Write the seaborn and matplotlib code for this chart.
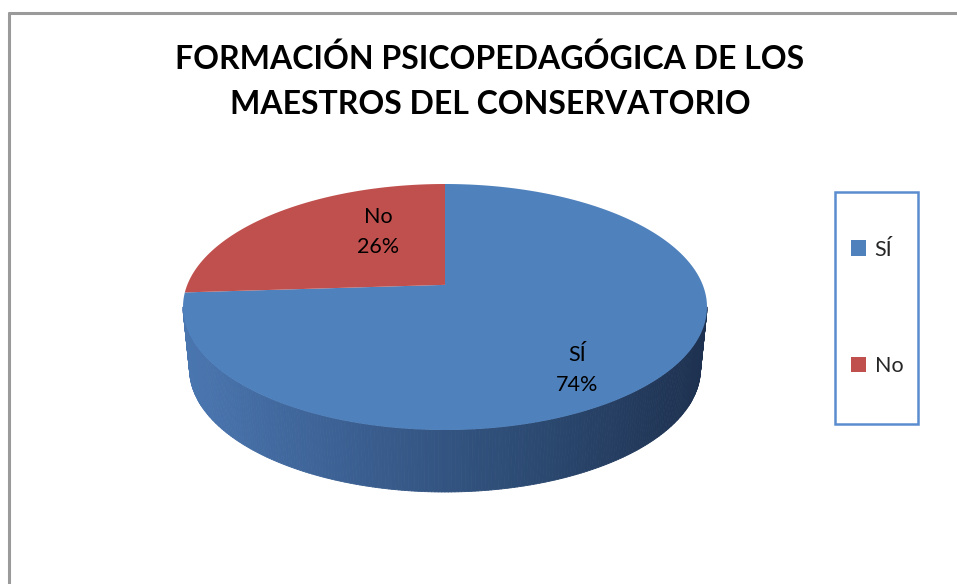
import numpy as np
import matplotlib
matplotlib.use("Agg")
import matplotlib.pyplot as plt
import seaborn as sns
from matplotlib.patches import Polygon, Patch, Rectangle
from matplotlib.collections import PolyCollection
from matplotlib.colors import LinearSegmentedColormap
from matplotlib.lines import Line2D

# datos del gráfico
categorias = ["SÍ", "No"]
porcentajes = [74, 26]
colores = ["#4f81bd", "#c0504d"]
titulo = "FORMACIÓN PSICOPEDAGÓGICA DE LOS\nMAESTROS DEL CONSERVATORIO"

sns.set_theme(style="white")
plt.rcParams["font.family"] = ["Lato", "DejaVu Sans"]

W, H = 957, 584
fig = plt.figure(figsize=(W / 100, H / 100), dpi=100)

# marco exterior (recortado a la derecha y abajo)
fig.add_artist(Line2D([9 / W, 1], [1 - 13 / H, 1 - 13 / H], color="#9a9a9a", lw=2.2))
fig.add_artist(Line2D([9 / W, 9 / W], [0, 1 - 13 / H], color="#9a9a9a", lw=2.2))

fig.text(490 / W, 1 - 81 / H, titulo, ha="center", va="center", fontsize=23,
         fontweight="bold", linespacing=1.65, color="black")

# elipse de la cara superior (en píxeles)
cx, cy, a, b = 445, 307, 262, 123
ax = fig.add_axes([(cx - a) / W, (H - cy - b) / H, 2 * a / W, 2 * b / H])

wedges, textos, autotextos = ax.pie(
    porcentajes, colors=colores, startangle=90, counterclock=False,
    autopct="%1.0f%%", pctdistance=0.7, labels=categorias, labeldistance=None,
)
ax.set_aspect("auto")
ax.set_xlim(-1, 1)
ax.set_ylim(-1, 1)
ax.axis("off")

# perspectiva: mapa proyectivo que conserva el círculo unidad
k = 0.18


def persp(u, v):
    d = 1 + k * v
    return u * np.sqrt(1 - k ** 2) / d, (v + k) / d


for w in wedges:
    th = np.radians(np.linspace(w.theta1, w.theta2, 200))
    u = np.concatenate([[w.center[0]], w.r * np.cos(th)])
    v = np.concatenate([[w.center[1]], w.r * np.sin(th)])
    x, y = persp(u, v)
    ax.add_patch(Polygon(np.column_stack([x, y]), closed=True,
                         facecolor=w.get_facecolor(), edgecolor="none",
                         zorder=3, clip_on=False))
    w.set_visible(False)

# pared lateral con degradado
prof = 62 / b
cmap = LinearSegmentedColormap.from_list(
    "pared", ["#4a76b0", "#3a5e90", "#2c4a72", "#1e3150"])
t = np.linspace(np.pi, 2 * np.pi, 241)
top_x, top_y = np.cos(t), np.sin(t)
bot_x, bot_y = np.cos(t) * 0.975, np.sin(t) - prof
quads = []
for i in range(len(t) - 1):
    quads.append([(top_x[i], top_y[i]), (top_x[i + 1], top_y[i + 1]),
                  (bot_x[i + 1], bot_y[i + 1]), (bot_x[i], bot_y[i])])
cols = cmap((top_x[:-1] + 1) / 2)
ax.add_collection(PolyCollection(quads, facecolors=cols, edgecolors=cols,
                                 linewidths=0.6, zorder=2, clip_on=False))

# etiquetas de datos
pos_etiquetas = [(0.504, -0.51), (-0.256, 0.61)]
for txt, cat, p in zip(autotextos, categorias, pos_etiquetas):
    txt.set_text(f"{cat}\n{txt.get_text()}")
    txt.set_position(p)
    txt.set_fontsize(15.5)
    txt.set_color("black")
    txt.set_linespacing(1.6)
    txt.set_zorder(5)

# leyenda
fig.add_artist(Rectangle((835 / W, 1 - 424 / H), 83 / W, 232 / H,
                         transform=fig.transFigure, fill=False,
                         edgecolor="#5b8ccf", lw=1.8))
handles = [Patch(facecolor=c, edgecolor="none") for c in colores]
fig.legend(handles, categorias, loc="center", bbox_to_anchor=(877 / W, 1 - 308 / H),
           frameon=False, fontsize=15.5, labelspacing=4.5, handlelength=0.7,
           handleheight=0.7, handletextpad=0.4)

fig.savefig("out.png", dpi=100, facecolor="white")
